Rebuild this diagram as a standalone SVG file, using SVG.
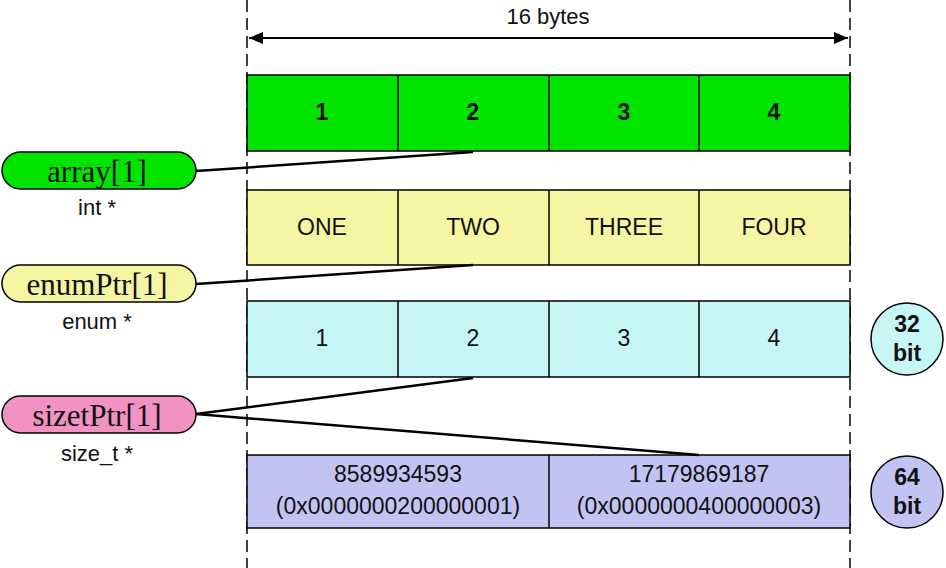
<svg xmlns="http://www.w3.org/2000/svg" width="946" height="568" viewBox="0 0 946 568">
<style>
.c{stroke:#000;stroke-width:1.5}
.t{font-family:"Liberation Sans",Arial,sans-serif;font-size:23px;text-anchor:middle;fill:#111}
.p{font-family:"Liberation Serif","Times New Roman",serif;font-size:31px;text-anchor:middle;fill:#111}
.s{font-family:"Liberation Sans",Arial,sans-serif;font-size:22px;text-anchor:middle;fill:#111}
.d{stroke:#000;stroke-width:1.5;stroke-dasharray:12,6}
</style>
<defs><marker id="a" markerWidth="14" markerHeight="12" refX="14" refY="6" orient="auto-start-reverse" markerUnits="userSpaceOnUse"><path d="M0,0L14,6L0,12z"/></marker></defs>
<rect width="946" height="568" fill="#fff"/>
<g id="guides">
<line class="d" x1="247" y1="0" x2="247" y2="568"/>
<line class="d" x1="850" y1="0" x2="850" y2="568"/>
<line x1="249" y1="38" x2="848" y2="38" stroke="#000" stroke-width="2" marker-start="url(#a)" marker-end="url(#a)"/>
<text class="s" x="548" y="24" font-size="18">16 bytes</text>
</g>
<g id="int-array">
<rect class="c" x="247" y="75" width="603" height="76" fill="#00e400"/>
<path class="c" d="M398 75V151M549 75V151M699 75V151"/>
<g class="t" font-weight="bold"><text x="322" y="120">1</text><text x="473" y="120">2</text><text x="624" y="120">3</text><text x="774" y="120">4</text></g>
</g>
<g id="enum-array">
<rect class="c" x="247" y="190" width="603" height="75" fill="#f5f5a3"/>
<path class="c" d="M398 190V265M549 190V265M699 190V265"/>
<g class="t"><text x="322" y="235">ONE</text><text x="473" y="235">TWO</text><text x="624" y="235">THREE</text><text x="774" y="235">FOUR</text></g>
</g>
<g id="size32">
<rect class="c" x="247" y="301" width="603" height="76" fill="#c6f6f6"/>
<path class="c" d="M398 301V377M549 301V377M699 301V377"/>
<g class="t"><text x="322" y="346">1</text><text x="473" y="346">2</text><text x="624" y="346">3</text><text x="774" y="346">4</text></g>
</g>
<g id="size64">
<rect class="c" x="247" y="455" width="603" height="73" fill="#c3c3f3"/>
<path class="c" d="M549 455V528"/>
<g class="t"><text x="398" y="482">8589934593</text><text x="398" y="514">(0x0000000200000001)</text><text x="699" y="482">17179869187</text><text x="699" y="514">(0x0000000400000003)</text></g>
</g>
<g id="connectors" stroke="#000" stroke-width="2.5" fill="none">
<path d="M196 171L473 152"/>
<path d="M196 284L473 265"/>
<path d="M196 414L473 378"/>
<path d="M196 414L699 455"/>
</g>
<g id="array-ptr">
<rect class="c" x="2" y="152" width="194" height="37" rx="18.5" fill="#00e400"/>
<text class="p" x="97" y="182">array[1]</text>
<text class="s" x="97" y="215">int *</text>
</g>
<g id="enum-ptr">
<rect class="c" x="2" y="265" width="194" height="37" rx="18.5" fill="#f5f5a3"/>
<text class="p" x="97" y="295">enumPtr[1]</text>
<text class="s" x="97" y="329">enum *</text>
</g>
<g id="sizet-ptr">
<rect class="c" x="2" y="396" width="194" height="37" rx="18.5" fill="#f292c2"/>
<text class="p" x="97" y="426">sizetPtr[1]</text>
<text class="s" x="97" y="461">size_t *</text>
</g>
<g id="bit32">
<circle class="c" cx="907" cy="339" r="36" fill="#c6f6f6"/>
<text class="t" x="907" y="332" font-weight="bold">32</text><text class="t" x="907" y="361" font-weight="bold">bit</text>
</g>
<g id="bit64">
<circle class="c" cx="907" cy="492" r="36" fill="#c3c3f3"/>
<text class="t" x="907" y="485" font-weight="bold">64</text><text class="t" x="907" y="514" font-weight="bold">bit</text>
</g>
</svg>
